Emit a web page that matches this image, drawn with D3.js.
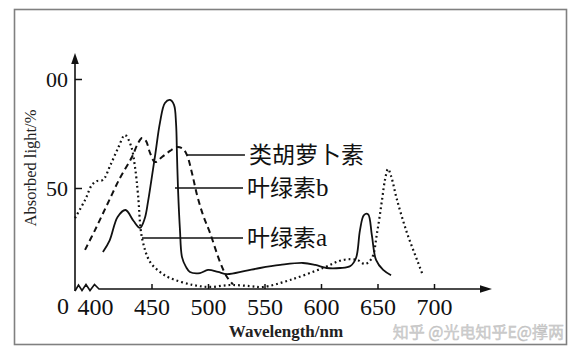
<!DOCTYPE html>
<html>
<head>
<meta charset="utf-8">
<script src="https://cdn.jsdelivr.net/npm/d3@7"></script>
<style>
    body { margin: 0; background: #fff; }
    svg { display: block; }
</style>
</head>
<body>
<div id="chart"></div>
<script>
// absorption curves (wavelength nm, absorbed %)
const solidWl = [407, 413, 420, 427, 434, 439.8, 444, 447, 450, 453.5, 457.5, 461.9, 466.4, 469.9, 471.7, 472.6, 473.5, 475.2, 477, 480.5, 484, 492.9, 500, 508.8, 516.8, 533, 546, 564, 584, 595, 605, 617, 626, 631, 634.5, 638, 641.6, 645, 648.7, 655, 662];
const solidVal = [20.6, 26, 36.7, 39.9, 35, 31.7, 36, 44, 54, 66, 80, 89, 90.4, 88.1, 79.8, 64.2, 49.1, 30.7, 18.3, 13.8, 11.5, 11, 12.4, 11.5, 10.5, 12, 13.3, 14.7, 15.6, 14.7, 13.3, 13.3, 14.2, 17.9, 30.7, 37.6, 38, 28.4, 17, 12.4, 10];

const dashedWl = [391.2, 400, 410.6, 422.1, 432.7, 438.1, 441.6, 445.1, 448.7, 453.1, 459.3, 466.4, 472.6, 477.9, 481.4, 485.8, 490.3, 495.6, 501.8, 510.6, 516.8, 522.1];
const dashedVal = [21.6, 30.7, 42.2, 54.6, 64.2, 70.6, 72.9, 71.6, 66.1, 61.9, 64.2, 67, 68.8, 67.9, 65.1, 56.9, 46.8, 37.6, 29.4, 16.1, 9.2, 5.8];

const dottedWl = [382.3, 391.2, 397.3, 401.8, 407.1, 413.3, 420.4, 426.5, 431.9, 435.4, 438.1, 441.6, 448.7, 457.5, 466.4, 486.7, 501.8, 519.5, 537.2, 548.7, 572.6, 601.8, 619.5, 631.9, 639, 645.1, 649.6, 654, 656.6, 659.3, 662, 667.3, 676.1, 685, 689.4];
const dottedVal = [36.2, 44.5, 51.4, 53.2, 53.7, 60.1, 68.3, 74.3, 69.3, 59.6, 46.8, 27.1, 16.1, 11.5, 8.7, 5.5, 4.6, 5.5, 5, 4.6, 7.8, 13.3, 17, 17, 15.1, 17.9, 29.4, 44.5, 53.7, 58.7, 55.5, 44.5, 29.4, 17, 11];

const xTicks = [400, 450, 500, 550, 600, 650, 700];
const yTicks = [50, 100];
const yTickLabels = ["50", "00"];

// pigment labels with their leader lines
const pigmentNames = ["类胡萝卜素", "叶绿素", "叶绿素"];
const pigmentSuffix = ["", "b", "a"];
const leaderFromWl = [481.4, 470.8, 441.6];
const leaderToWl = [532.7, 531, 531];
const leaderLevel = [65.1, 50, 27.1];

const W = 578, H = 354;

const svg = d3.select("#chart").append("svg")
    .attr("width", W)
    .attr("height", H);

svg.append("rect")
    .attr("x", 14.5).attr("y", 9.5)
    .attr("width", 552).attr("height", 335)
    .attr("fill", "#fff")
    .attr("stroke", "#808080")
    .attr("stroke-width", 1.6);

const x = d3.scaleLinear().domain([400, 700]).range([95, 434]);
const y = d3.scaleLinear().domain([0, 100]).range([297, 79]);

const axisX0 = 75, axisY0 = 289;
const ink = "#111";

// y axis line + arrow
svg.append("line")
    .attr("x1", axisX0).attr("x2", axisX0)
    .attr("y1", 291).attr("y2", 60)
    .attr("stroke", ink).attr("stroke-width", 1.6);
svg.append("path")
    .attr("d", `M${axisX0},53 L${axisX0 - 3.8},64 L${axisX0 + 3.8},64 Z`)
    .attr("fill", ink);

// x axis with the break zigzag
svg.append("path")
    .attr("d", `M75,291 L78.5,285 L82,290.5 L86,284.5 L90,290.5 L94.5,284.5 L99,${axisY0} L484,${axisY0}`)
    .attr("fill", "none").attr("stroke", ink).attr("stroke-width", 1.6);
svg.append("path")
    .attr("d", `M492,${axisY0} L480,${axisY0 - 3.8} L480,${axisY0 + 3.8} Z`)
    .attr("fill", ink);

const xAxis = d3.axisBottom(x)
    .tickValues(xTicks)
    .tickSize(-5)
    .tickPadding(9)
    .tickFormat(d3.format("d"));

const gx = svg.append("g")
    .attr("transform", `translate(0,${axisY0})`)
    .call(xAxis);
gx.select(".domain").remove();
gx.selectAll(".tick line").attr("stroke", ink).attr("stroke-width", 1.5)
    .filter(d => d === 400).remove();
gx.selectAll(".tick text")
    .attr("font-family", "'Liberation Serif', 'Times New Roman', serif")
    .attr("font-size", 24)
    .attr("fill", ink);

const yAxis = d3.axisLeft(y)
    .tickValues(yTicks)
    .tickSize(-7)
    .tickPadding(7)
    .tickFormat((d, i) => yTickLabels[i]);

const gy = svg.append("g")
    .attr("transform", `translate(${axisX0},0)`)
    .call(yAxis);
gy.select(".domain").remove();
gy.selectAll(".tick line").attr("stroke", ink).attr("stroke-width", 1.5);
gy.selectAll(".tick text")
    .attr("font-family", "'Liberation Serif', 'Times New Roman', serif")
    .attr("font-size", 22)
    .attr("fill", ink);

// origin "0"
svg.append("text")
    .attr("x", 63).attr("y", 314)
    .attr("text-anchor", "middle")
    .attr("font-family", "'Liberation Serif', serif")
    .attr("font-size", 24)
    .attr("fill", ink)
    .text("0");

// axis titles
svg.append("text")
    .attr("x", 286).attr("y", 337)
    .attr("text-anchor", "middle")
    .attr("font-family", "'Liberation Serif', serif")
    .attr("font-weight", "bold")
    .attr("font-size", 17)
    .attr("fill", "#222")
    .text("Wavelength/nm");

svg.append("text")
    .attr("transform", "translate(36,168) rotate(-90)")
    .attr("text-anchor", "middle")
    .attr("font-family", "'Liberation Serif', serif")
    .attr("font-size", 16.5)
    .attr("fill", "#222")
    .text("Absorbed light/%");

// curves
const line = d3.line()
    .x(d => x(d[0]))
    .y(d => y(d[1]))
    .curve(d3.curveCatmullRom.alpha(0.5));

const series = [
    { wl: dottedWl, val: dottedVal, dash: "1.8,3", width: 2.2 },
    { wl: dashedWl, val: dashedVal, dash: "6,4", width: 2 },
    { wl: solidWl, val: solidVal, dash: null, width: 1.8 }
];

svg.append("g").selectAll("path")
    .data(series)
    .enter().append("path")
    .attr("d", s => line(s.wl.map((w, i) => [w, s.val[i]])))
    .attr("fill", "none")
    .attr("stroke", ink)
    .attr("stroke-width", s => s.width)
    .attr("stroke-dasharray", s => s.dash);

// leader lines and labels
const labels = svg.append("g").selectAll("g")
    .data(pigmentNames.map((n, i) => i))
    .enter().append("g");

labels.append("line")
    .attr("x1", i => x(leaderFromWl[i]))
    .attr("x2", i => x(leaderToWl[i]))
    .attr("y1", i => y(leaderLevel[i]))
    .attr("y2", i => y(leaderLevel[i]))
    .attr("stroke", ink)
    .attr("stroke-width", 1.5);

const lt = labels.append("text")
    .attr("x", i => x(leaderToWl[i]) + 4)
    .attr("y", i => y(leaderLevel[i]))
    .attr("dy", "0.36em")
    .attr("font-family", "'Noto Sans CJK SC', sans-serif")
    .attr("font-size", 23)
    .attr("fill", ink);
lt.append("tspan").text(i => pigmentNames[i]);
lt.append("tspan")
    .attr("font-family", "'Liberation Serif', serif")
    .attr("font-size", 25)
    .text(i => pigmentSuffix[i]);

// watermark
svg.append("text")
    .attr("x", 564).attr("y", 338)
    .attr("text-anchor", "end")
    .attr("font-family", "'Noto Sans CJK SC', sans-serif")
    .attr("font-size", 16)
    .attr("fill", "#d0d0d0")
    .attr("stroke", "#bdbdbd")
    .attr("stroke-width", 0.4)
    .text("知乎 @光电知乎E@撑两");
</script>
</body>
</html>
